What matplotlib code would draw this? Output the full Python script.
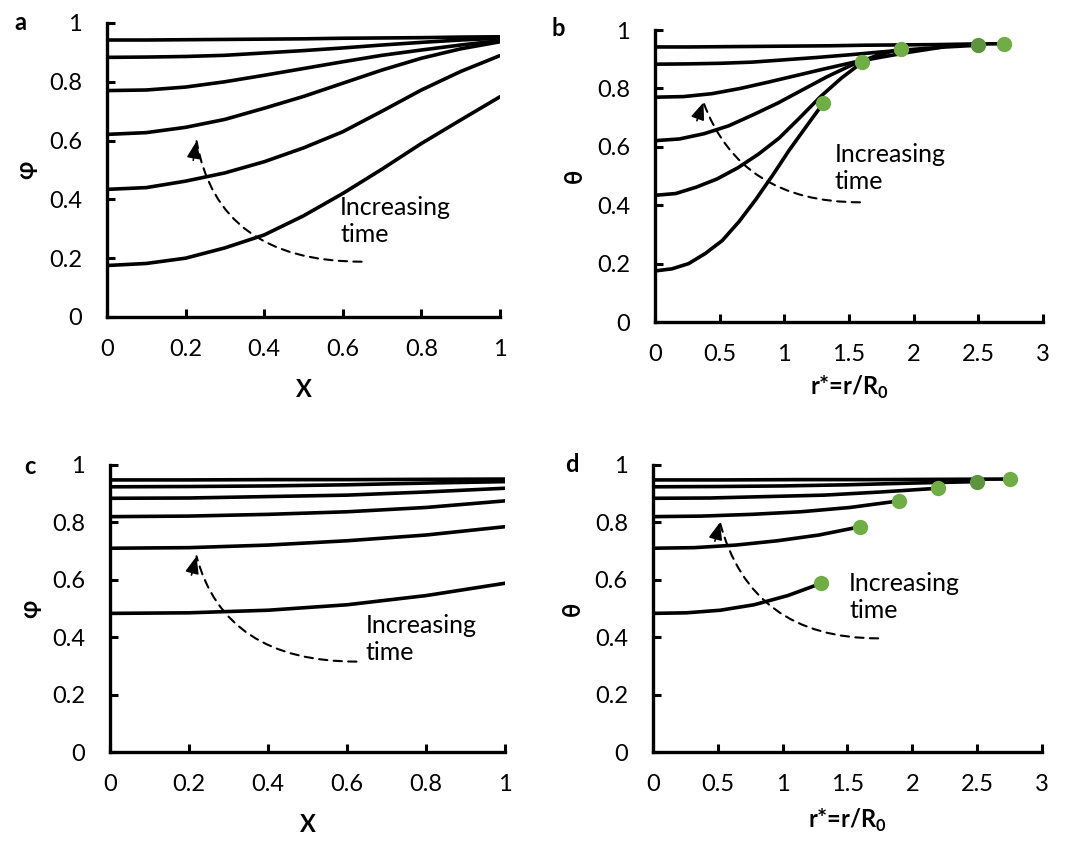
import math
import matplotlib
matplotlib.use("Agg")
import matplotlib.pyplot as plt
from matplotlib.ticker import FuncFormatter

plt.rcParams['font.family'] = ['Lato', 'DejaVu Sans']
plt.rcParams['mathtext.fontset'] = 'custom'
plt.rcParams['mathtext.rm'] = 'Lato'
plt.rcParams['mathtext.bf'] = 'Lato:bold'

# panel a: phi vs X, one list per time step (earliest first)
X_a = [0.0, 0.1, 0.2, 0.3, 0.4, 0.5, 0.6, 0.7, 0.8, 0.9, 1.0]
phi_a = [
    [0.175, 0.182, 0.200, 0.235, 0.279, 0.344, 0.420, 0.503, 0.590, 0.670, 0.749],
    [0.434, 0.440, 0.462, 0.490, 0.528, 0.575, 0.630, 0.700, 0.772, 0.835, 0.889],
    [0.621, 0.627, 0.645, 0.672, 0.710, 0.750, 0.795, 0.840, 0.880, 0.912, 0.936],
    [0.770, 0.772, 0.782, 0.800, 0.822, 0.845, 0.868, 0.890, 0.908, 0.925, 0.940],
    [0.883, 0.884, 0.886, 0.890, 0.898, 0.906, 0.915, 0.925, 0.934, 0.942, 0.948],
    [0.942, 0.942, 0.943, 0.944, 0.945, 0.946, 0.948, 0.949, 0.950, 0.952, 0.953],
]
# panel b: same profiles against r* = X * front radius
r_end_b = [1.3, 1.6, 1.9, 2.2, 2.5, 2.7]
dot_b = [True, True, True, False, True, True]

# panel c
X_c = [0.0, 0.2, 0.4, 0.6, 0.8, 1.0]
phi_c = [
    [0.483, 0.485, 0.494, 0.513, 0.545, 0.588],
    [0.710, 0.712, 0.721, 0.736, 0.756, 0.785],
    [0.820, 0.822, 0.828, 0.837, 0.852, 0.875],
    [0.884, 0.885, 0.890, 0.895, 0.906, 0.919],
    [0.924, 0.925, 0.927, 0.931, 0.937, 0.942],
    [0.948, 0.948, 0.949, 0.949, 0.950, 0.951],
]
# panel d
r_end_d = [1.3, 1.6, 1.9, 2.2, 2.5, 2.75]
dot_d = [True, True, True, True, True, True]

# dashed "increasing time" arrows: (tail, head) in data coords
arrow_a = ((0.648, 0.188), (0.228, 0.598))
arrow_b = ((1.585, 0.410), (0.375, 0.752))
arrow_c = ((0.624, 0.315), (0.219, 0.682))
arrow_d = ((1.737, 0.396), (0.517, 0.800))
text_pos = {'a': (0.593, 0.41), 'b': (1.39, 0.612), 'c': (0.647, 0.48), 'd': (1.514, 0.628)}

GREEN = '#70AD47'
DARK_GREEN = '#5E9440'
LW = 2.6


def style_axes(ax, xmax, xstep, xlabel, ylabel, xlabelpad):
    ax.set_xlim(0, xmax)
    ax.set_ylim(0, 1)
    n = int(round(xmax / xstep))
    ax.set_xticks([i * xstep for i in range(n + 1)])
    ax.set_yticks([0, 0.2, 0.4, 0.6, 0.8, 1.0])
    fmt = FuncFormatter(lambda v, p: f'{v:g}')
    ax.xaxis.set_major_formatter(fmt)
    ax.yaxis.set_major_formatter(fmt)
    for s in ['top', 'right']:
        ax.spines[s].set_visible(False)
    for s in ['left', 'bottom']:
        ax.spines[s].set_linewidth(2.4)
    ax.tick_params(direction='in', length=6, width=2.2, labelsize=17)
    ax.tick_params(axis='x', pad=16)
    ax.tick_params(axis='y', pad=18)
    ax.set_xlabel(xlabel, fontsize=17, fontweight='bold', labelpad=xlabelpad)
    ax.set_ylabel(ylabel, fontsize=17, fontweight='bold', labelpad=8)


def draw_arrow(ax, arrow, angB):
    tail, head = arrow
    # dashed arc
    ax.annotate('', xy=head, xytext=tail,
                arrowprops=dict(arrowstyle='-', linestyle=(0, (4, 3)), lw=1.5,
                                color='black', shrinkA=0, shrinkB=0,
                                connectionstyle=f'angle3,angleA=0,angleB={angB}'))
    # solid head, aligned with the end tangent of the arc
    L = 14
    off = (L * math.cos(math.radians(angB)), -L * math.sin(math.radians(angB)))
    ax.annotate('', xy=head, xytext=off, textcoords='offset points',
                arrowprops=dict(arrowstyle='-|>,head_length=0.8,head_width=0.32',
                                lw=1.2, color='black', shrinkA=0, shrinkB=0,
                                mutation_scale=13))


def add_note(ax, key):
    ax.text(*text_pos[key], 'Increasing\ntime', fontsize=18, va='top', ha='left',
            linespacing=1.2)


fig = plt.figure(figsize=(10.72, 8.41), dpi=100)
ax_a = fig.add_axes([0.0998, 0.6231, 0.3666, 0.3496])
ax_b = fig.add_axes([0.611, 0.6171, 0.362, 0.3472])
ax_c = fig.add_axes([0.1026, 0.1058, 0.3685, 0.3413])
ax_d = fig.add_axes([0.609, 0.1058, 0.363, 0.3413])

r_label = r'r*=r/R$_\mathbf{0}$'

# a
for prof in phi_a:
    ax_a.plot(X_a, prof, color='black', lw=LW, solid_capstyle='round', solid_joinstyle='round')
style_axes(ax_a, 1.0, 0.2, 'X', 'φ', 13)
draw_arrow(ax_a, arrow_a, 100)
add_note(ax_a, 'a')

# b
for prof, rend in zip(phi_a, r_end_b):
    r = [x * rend for x in X_a]
    ax_b.plot(r, prof, color='black', lw=LW, solid_capstyle='round', solid_joinstyle='round')
for prof, rend, dot in zip(phi_a, r_end_b, dot_b):
    if dot:
        c = DARK_GREEN if rend == 2.5 else GREEN
        ax_b.plot(rend, prof[-1], 'o', color=c, ms=10, clip_on=False, zorder=5)
style_axes(ax_b, 3.0, 0.5, r_label, 'θ', 6)
draw_arrow(ax_b, arrow_b, 110)
add_note(ax_b, 'b')

# c
for prof in phi_c:
    ax_c.plot(X_c, prof, color='black', lw=LW, solid_capstyle='round', solid_joinstyle='round')
style_axes(ax_c, 1.0, 0.2, 'X', 'φ', 13)
draw_arrow(ax_c, arrow_c, 105)
add_note(ax_c, 'c')

# d
for prof, rend in zip(phi_c, r_end_d):
    r = [x * rend for x in X_c]
    ax_d.plot(r, prof, color='black', lw=LW, solid_capstyle='round', solid_joinstyle='round')
for prof, rend, dot in zip(phi_c, r_end_d, dot_d):
    if dot:
        c = DARK_GREEN if rend == 2.5 else GREEN
        ax_d.plot(rend, prof[-1], 'o', color=c, ms=10, clip_on=False, zorder=5)
style_axes(ax_d, 3.0, 0.5, r_label, 'θ', 8)
draw_arrow(ax_d, arrow_d, 105)
add_note(ax_d, 'd')

# panel letters
for letter, (px, py) in {'a': (20, 22), 'b': (558, 28), 'c': (30, 467), 'd': (572, 465)}.items():
    fig.text(px / 1072, 1 - py / 841, letter, fontsize=17, fontweight='bold', ha='center', va='center')

fig.savefig('out.png', dpi=100)
